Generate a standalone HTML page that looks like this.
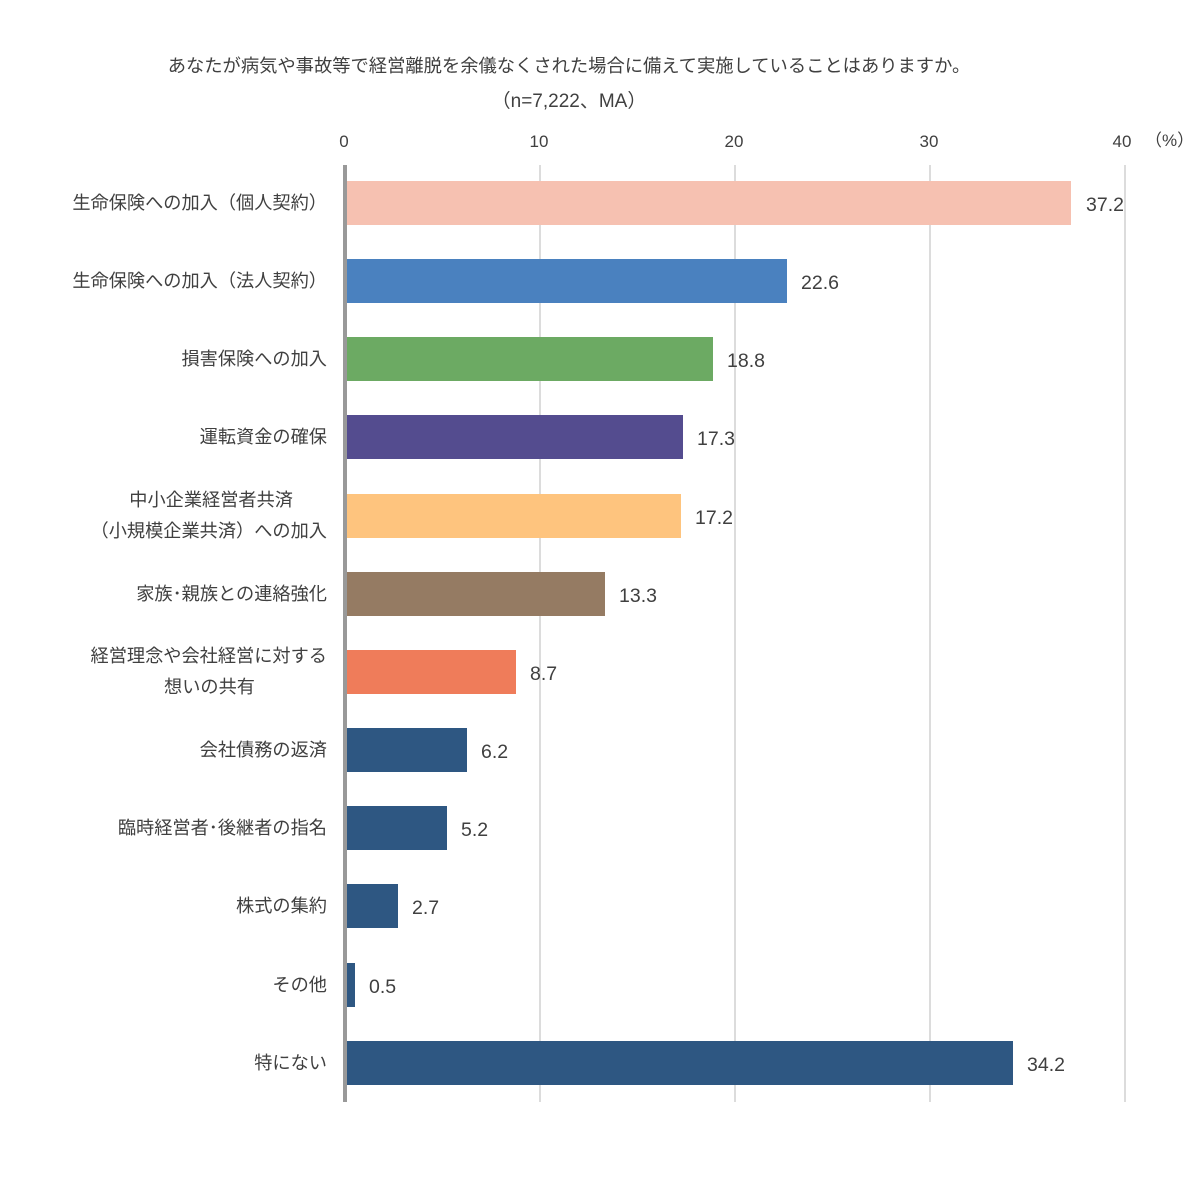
<!DOCTYPE html>
<html><head><meta charset="utf-8"><style>
body{margin:0;background:#fff}
svg text{font-family:"Liberation Sans","Noto Sans CJK JP",sans-serif;fill:#404040}
</style></head><body>
<svg width="1200" height="1173" viewBox="0 0 1200 1173" xmlns="http://www.w3.org/2000/svg">
<rect width="1200" height="1173" fill="#fff"/>
<text x="569" y="72" font-size="18.3" text-anchor="middle">あなたが病気や事故等で経営離脱を余儀なくされた場合に備えて実施していることはありますか。</text>
<text x="569" y="107" font-size="19" text-anchor="middle">（n=7,222、MA）</text>
<g font-size="17" text-anchor="middle">
<text x="344" y="147">0</text><text x="539" y="147">10</text><text x="734" y="147">20</text><text x="929" y="147">30</text><text x="1122" y="147">40</text>
</g>
<text x="1145" y="146" font-size="17">（%）</text>
<g stroke="#d0d0d0" stroke-width="1.5">
<line x1="540" y1="165" x2="540" y2="1102"/><line x1="735" y1="165" x2="735" y2="1102"/><line x1="930" y1="165" x2="930" y2="1102"/><line x1="1125" y1="165" x2="1125" y2="1102"/>
</g>
<g>
<rect x="347" y="181" width="724" height="44" fill="#f6c1b1"/>
<rect x="347" y="259" width="440" height="44" fill="#4a81bf"/>
<rect x="347" y="337" width="366" height="44" fill="#6caa63"/>
<rect x="347" y="415" width="336" height="44" fill="#544c8f"/>
<rect x="347" y="494" width="334" height="44" fill="#fec47e"/>
<rect x="347" y="572" width="258" height="44" fill="#957b63"/>
<rect x="347" y="650" width="169" height="44" fill="#ef7c5a"/>
<rect x="347" y="728" width="120" height="44" fill="#2e5782"/>
<rect x="347" y="806" width="100" height="44" fill="#2e5782"/>
<rect x="347" y="884" width="51" height="44" fill="#2e5782"/>
<rect x="347" y="963" width="8" height="44" fill="#2e5782"/>
<rect x="347" y="1041" width="666" height="44" fill="#2e5782"/>
</g>
<line x1="345" y1="165" x2="345" y2="1102" stroke="#999" stroke-width="4"/>
<g font-size="19.5">
<text x="1086" y="211">37.2</text><text x="801" y="289">22.6</text><text x="727" y="367">18.8</text><text x="697" y="445">17.3</text><text x="695" y="524">17.2</text><text x="619" y="602">13.3</text><text x="530" y="680">8.7</text><text x="481" y="758">6.2</text><text x="461" y="836">5.2</text><text x="412" y="914">2.7</text><text x="369" y="993">0.5</text><text x="1027" y="1071">34.2</text>
</g>
<g font-size="18.2" text-anchor="end">
<text x="327" y="209">生命保険への加入（個人契約）</text>
<text x="327" y="287">生命保険への加入（法人契約）</text>
<text x="327" y="365">損害保険への加入</text>
<text x="327" y="443">運転資金の確保</text>
<text x="293" y="506">中小企業経営者共済</text>
<text x="327" y="537">（小規模企業共済）への加入</text>
<text x="327" y="600">家族･親族との連絡強化</text>
<text x="327" y="662">経営理念や会社経営に対する</text>
<text x="255" y="693">想いの共有</text>
<text x="327" y="756">会社債務の返済</text>
<text x="327" y="834">臨時経営者･後継者の指名</text>
<text x="327" y="912">株式の集約</text>
<text x="327" y="991">その他</text>
<text x="327" y="1069">特にない</text>
</g>
</svg>
</body></html>
